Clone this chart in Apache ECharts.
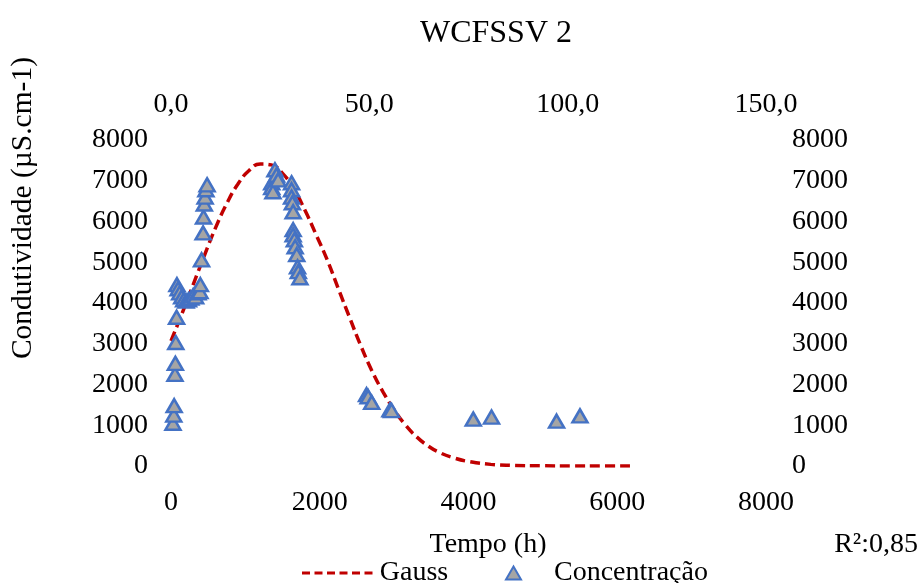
<!DOCTYPE html>
<html>
<head>
<meta charset="utf-8">
<script src="https://cdn.jsdelivr.net/npm/echarts@6/dist/echarts.min.js"></script>
<style>
html,body{margin:0;padding:0;background:#fff;}
#chart{width:920px;height:583px;}
</style>
</head>
<body>
<div id="chart"></div>
<script>
// Gauss fit (bottom axis, 0-8000)
var gaussTime = [0,150,300,450,600,750,900,1050,1200,1350,1500,1650,1800,1950,2100,2250,2400,2550,2700,2850,3000,3150,3300,3450,3600,3800,4000,4300,4600,5000,5400,5800,6180];
var gaussValue = [3070,3750,4460,5170,5850,6440,6920,7250,7410,7390,7180,6800,6280,5680,5060,4350,3650,2960,2340,1820,1380,1010,720,500,340,200,110,40,15,5,0,0,0];

// Measured concentration (top axis, hours)
var concTime = [0.5,0.7,0.8,1.0,1.1,1.2,1.4,
  1.5,1.8,2.2,2.7,3.2,3.8,4.4,5.0,5.6,6.2,6.8,
  7.3,7.4,7.7,8.1,8.2,8.4,8.6,8.8,9.1,
  25.4,25.4,25.7,26.2,26.6,27.0,
  30.4,30.4,30.4,30.6,30.8,30.8,30.8,31.1,31.3,31.7,31.9,32.1,32.5,
  49.3,49.7,50.6,55.2,55.6,76.2,80.8,97.2,103.1];
var concValue = [1050,1250,1480,2250,2520,3030,3650,
  4450,4350,4250,4150,4080,4050,4080,4120,4180,4150,4250,
  4280,4450,5060,5720,6110,6430,6600,6780,6900,
  6950,6830,6730,7270,7140,7020,
  6950,6780,6600,6460,6240,5800,5670,5550,5380,5185,4890,4770,4620,
  1750,1700,1560,1380,1360,1150,1200,1100,1230];

var titleText = 'WCFSSV 2';
var yName = 'Condutividade (µS.cm-1)';
var xName = 'Tempo (h)';
var r2Text = 'R²:0,85';
var seriesNames = ['Gauss', 'Concentração'];

var FONT = 'Liberation Serif';
var FS = 28;

var gaussData = gaussTime.map(function(t, i){ return [t, gaussValue[i]]; });
var concData = concTime.map(function(t, i){ return [t, concValue[i]]; });

var chart = echarts.init(document.getElementById('chart'));
var txt = {fontFamily: FONT, fontSize: FS, color: '#000'};
function plain(v){ return String(v); }
var dashIcon = 'path://M0,0h8v3h-8z M12.5,0h8v3h-8z M25,0h8v3h-8z M37.5,0h8v3h-8z M50,0h8v3h-8z M62.5,0h8v3h-8z';

chart.setOption({
  backgroundColor: '#fff',
  animation: false,
  title: {
    text: titleText,
    left: 491, top: 13, textAlign: 'center',
    textStyle: {fontFamily: FONT, fontSize: 32, fontWeight: 'normal', color: '#000'}
  },
  grid: {left: 171, right: 154, top: 140, bottom: 117, containLabel: false},
  xAxis: [
    {
      type: 'value', position: 'bottom', min: 0, max: 8000, interval: 2000,
      axisLine: {show: false}, axisTick: {show: false}, splitLine: {show: false},
      axisLabel: Object.assign({margin: 23, formatter: plain}, txt)
    },
    {
      type: 'value', position: 'top', min: 0, max: 150, interval: 50,
      axisLine: {show: false}, axisTick: {show: false}, splitLine: {show: false},
      axisLabel: Object.assign({margin: 21, formatter: function(v){ return v.toFixed(1).replace('.', ','); }}, txt)
    }
  ],
  yAxis: [
    {
      type: 'value', position: 'left', min: 0, max: 8000, interval: 1000,
      axisLine: {show: false}, axisTick: {show: false}, splitLine: {show: false},
      axisLabel: Object.assign({margin: 23, formatter: plain}, txt)
    },
    {
      type: 'value', position: 'right', min: 0, max: 8000, interval: 1000,
      axisLine: {show: false}, axisTick: {show: false}, splitLine: {show: false},
      axisLabel: Object.assign({margin: 26, formatter: plain}, txt)
    }
  ],
  legend: [
    {
      left: 297, top: 554,
      itemWidth: 71, itemHeight: 3,
      textStyle: Object.assign({padding: [0, 0, 0, 2]}, txt),
      data: [{name: seriesNames[0], icon: dashIcon, itemStyle: {color: '#C00000', borderWidth: 0}}]
    },
    {
      left: 500, top: 554,
      itemWidth: 15, itemHeight: 13,
      textStyle: Object.assign({padding: [0, 0, 0, 28]}, txt),
      data: [{name: seriesNames[1], icon: 'triangle'}]
    }
  ],
  graphic: [
    {
      type: 'text', left: 8, top: 57,
      style: {text: yName, font: '29.5px "' + FONT + '"', fill: '#000'},
      rotation: Math.PI / 2
    },
    {
      type: 'text', x: 488, y: 545,
      style: {text: xName, font: FS + 'px "' + FONT + '"', fill: '#000', align: 'center', verticalAlign: 'middle'}
    },
    {
      type: 'text', x: 918, y: 545,
      style: {text: r2Text, font: FS + 'px "' + FONT + '"', fill: '#000', align: 'right', verticalAlign: 'middle'}
    }
  ],
  series: [
    {
      name: seriesNames[0], type: 'line', xAxisIndex: 0, yAxisIndex: 0,
      data: gaussData, smooth: true, symbol: 'none', showSymbol: false,
      lineStyle: {color: '#C00000', width: 3.5, type: [10, 5]},
      itemStyle: {color: '#C00000'},
      z: 2
    },
    {
      name: seriesNames[1], type: 'scatter', xAxisIndex: 1, yAxisIndex: 0,
      data: concData, symbol: 'triangle', symbolSize: [15, 13],
      itemStyle: {color: '#A5A5A5', borderColor: '#4472C4', borderWidth: 2.5, opacity: 1},
      z: 3
    }
  ]
});
</script>
</body>
</html>
